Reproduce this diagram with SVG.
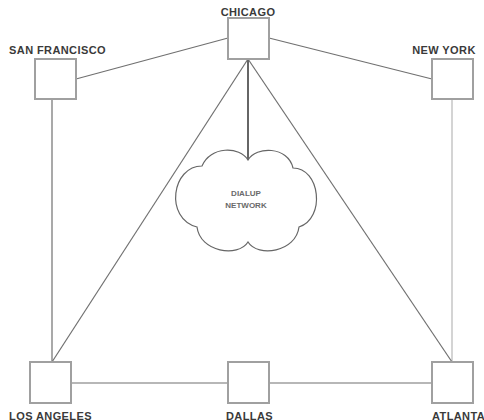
<svg xmlns="http://www.w3.org/2000/svg" width="484" height="420" viewBox="0 0 484 420">
  <style>
    .site { fill: #ffffff; stroke: #a0a0a0; stroke-width: 2; }
    .label { font-family: "Liberation Sans", Arial, sans-serif; font-size: 11px; font-weight: bold; fill: #3a3a3a; letter-spacing: 0.4px; }
    .cloud-label { font-family: "Liberation Sans", Arial, sans-serif; font-size: 8px; font-weight: bold; fill: #6a6a6a; text-anchor: middle; }
    .link { stroke: #707070; stroke-width: 1.2; fill: none; }
    .link-light { stroke: #b8b8b8; stroke-width: 1.2; fill: none; }
    .link-heavy { stroke: #666666; stroke-width: 2; fill: none; }
    .cloud { fill: #ffffff; stroke: #666666; stroke-width: 1.2; }
  </style>
  <rect width="484" height="420" fill="#ffffff"/>

  <!-- connectors -->
  <g id="connectors">
    <line class="link" x1="228" y1="38" x2="76" y2="79"/>
    <line class="link" x1="269" y1="38" x2="432" y2="79"/>
    <line class="link" x1="52" y1="99" x2="52" y2="362"/>
    <line class="link-light" x1="452" y1="99" x2="452" y2="362"/>
    <line class="link" x1="248" y1="59" x2="52" y2="362"/>
    <line class="link" x1="248" y1="59" x2="452" y2="362"/>
    <line class="link-heavy" x1="248" y1="59" x2="248" y2="160"/>
    <line class="link" x1="71" y1="383" x2="228" y2="383"/>
    <line class="link" x1="269" y1="383" x2="432" y2="383"/>
  </g>

  <!-- dial-up network cloud -->
  <g id="dialup-network">
    <path class="cloud" d="M 248,160 C 240,146 210,146 202,166 C 172,166 164,218 197,227 C 200,252 238,258 248,242 C 258,258 296,252 299,227 C 326,218 320,168 293,168 C 288,146 256,146 248,160 Z"/>
    <text class="cloud-label" x="246" y="196">DIALUP</text>
    <text class="cloud-label" x="246" y="208">NETWORK</text>
  </g>

  <g id="chicago">
    <rect class="site" x="228" y="18" width="41" height="41"/>
    <text class="label" x="248" y="16" text-anchor="middle">CHICAGO</text>
  </g>
  <g id="san-francisco">
    <rect class="site" x="35" y="59" width="41" height="40"/>
    <text class="label" x="57.5" y="53.5" text-anchor="middle">SAN FRANCISCO</text>
  </g>
  <g id="new-york">
    <rect class="site" x="432" y="59" width="41" height="40"/>
    <text class="label" x="444" y="53.5" text-anchor="middle">NEW YORK</text>
  </g>
  <g id="los-angeles">
    <rect class="site" x="30" y="362" width="41" height="41"/>
    <text class="label" x="50.5" y="419.5" text-anchor="middle">LOS ANGELES</text>
  </g>
  <g id="dallas">
    <rect class="site" x="228" y="362" width="41" height="41"/>
    <text class="label" x="249.5" y="419.5" text-anchor="middle">DALLAS</text>
  </g>
  <g id="atlanta">
    <rect class="site" x="432" y="362" width="41" height="41"/>
    <text class="label" x="432" y="419.5">ATLANTA</text>
  </g>
</svg>
